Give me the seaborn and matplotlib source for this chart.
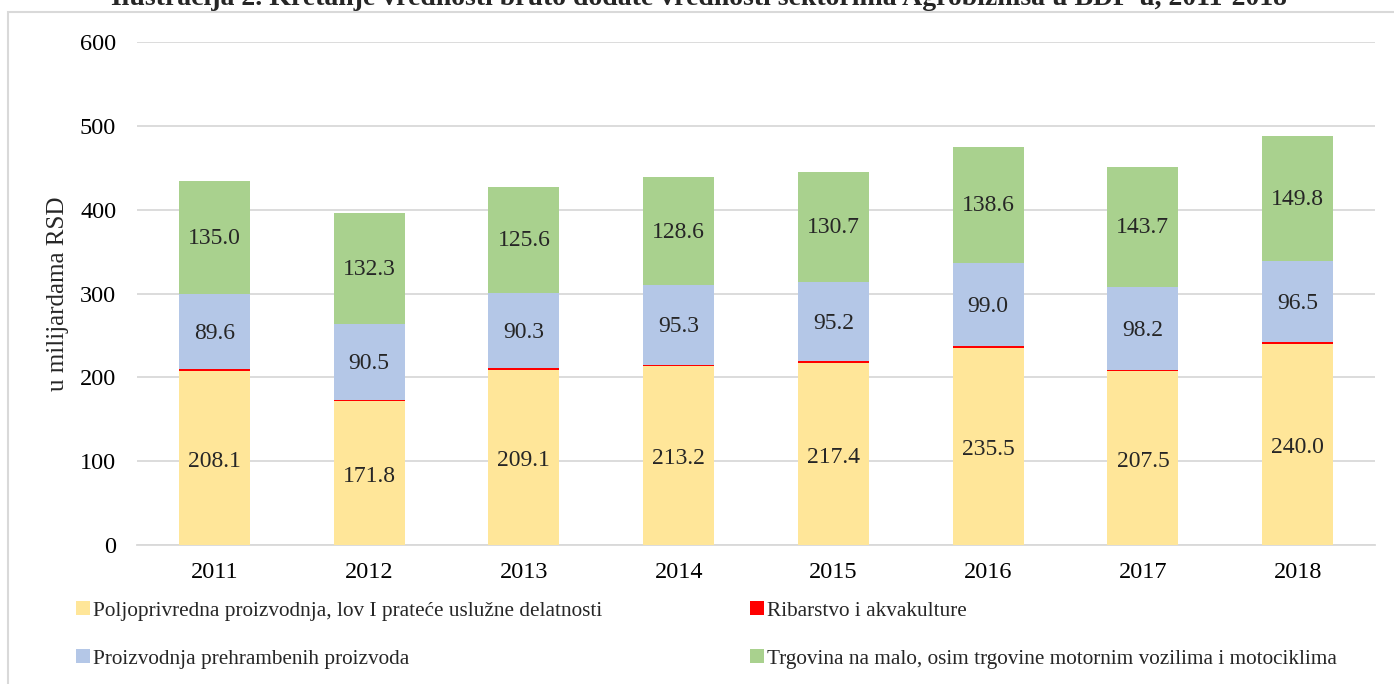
import numpy as np
import pandas as pd
import matplotlib
matplotlib.use("Agg")
import matplotlib.pyplot as plt
from matplotlib.patches import Rectangle, Patch
import seaborn as sns

years = ["2011", "2012", "2013", "2014", "2015", "2016", "2017", "2018"]
poljoprivreda = [208.1, 171.8, 209.1, 213.2, 217.4, 235.5, 207.5, 240.0]
ribarstvo = [1.4, 1.6, 1.6, 1.5, 1.6, 1.8, 1.7, 1.8]
prehrambeni = [89.6, 90.5, 90.3, 95.3, 95.2, 99.0, 98.2, 96.5]
trgovina = [135.0, 132.3, 125.6, 128.6, 130.7, 138.6, 143.7, 149.8]

series_names = [
    "Poljoprivredna proizvodnja, lov I prateće uslužne delatnosti",
    "Ribarstvo i akvakulture",
    "Proizvodnja prehrambenih proizvoda",
    "Trgovina na malo, osim trgovine motornim vozilima i motociklima",
]
colors = ["#FFE699", "#FF0000", "#B4C7E7", "#A9D18E"]

sns.set_theme(style="white")
plt.rcParams["font.family"] = ["Liberation Serif", "DejaVu Serif"]

fig = plt.figure(figsize=(13.94, 6.84), dpi=100)
ax = fig.add_axes([137 / 1394, 1 - 545 / 684, (1375 - 137) / 1394, (545 - 42) / 684])

p = np.array(poljoprivreda)
r = np.array(ribarstvo)
b = np.array(prehrambeni)
t = np.array(trgovina)
c1 = p
c2 = p + r
c3 = c2 + b
c4 = c3 + t

layers = [(c4, colors[3]), (c3, colors[2]), (c2, colors[1]), (c1, colors[0])]
for cum, col in layers:
    df = pd.DataFrame({"year": years, "value": cum})
    sns.barplot(data=df, x="year", y="value", color=col, width=0.46,
                saturation=1, ax=ax, linewidth=0, zorder=3)

ax.set_ylim(0, 600)
ax.set_yticks(range(0, 601, 100))
ax.grid(axis="y", color="#d9d9d9", linewidth=1.3, zorder=0)
ax.set_axisbelow(True)
for s in ["top", "right", "left"]:
    ax.spines[s].set_visible(False)
ax.spines["bottom"].set_color("#d9d9d9")
ax.spines["bottom"].set_linewidth(1.3)
ax.tick_params(axis="both", length=0, labelsize=17.5, colors="black")
ax.tick_params(axis="y", pad=15)
ax.tick_params(axis="x", pad=12)
ax.set_xlabel("")
ax.set_ylabel("u milijardama RSD", fontsize=18, labelpad=8)

for i in range(len(years)):
    ax.text(i, p[i] / 2 - 4, f"{p[i]:.1f}", ha="center", va="center", fontsize=17, zorder=5)
    ax.text(i, c2[i] + b[i] / 2 - 2, f"{b[i]:.1f}", ha="center", va="center", fontsize=17, zorder=5)
    ax.text(i, c3[i] + t[i] / 2 - 1, f"{t[i]:.1f}", ha="center", va="center", fontsize=17, zorder=5)

# chart border
fig.patches.append(Rectangle((7.5 / 1394, -0.05), 1.1, 1 - 12 / 684 + 0.05,
                             transform=fig.transFigure, fill=False,
                             edgecolor="#d9d9d9", linewidth=1.5))

# clipped title (cut off at the top edge as in the reference)
fig.text(699 / 1394, 1 - 5 / 684,
         "Ilustracija 2. Kretanje vrednosti bruto dodate vrednosti sektorima Agrobiznisa u BDP-u, 2011-2018",
         ha="center", va="baseline", fontsize=20, fontweight="bold")

h = [Patch(facecolor=c, edgecolor="none") for c in colors]
leg_kw = dict(frameon=False, fontsize=15.3, handlelength=0.65, handleheight=0.65,
              handletextpad=0.15, labelspacing=1.35, borderaxespad=0, borderpad=0)
fig.legend([h[0], h[2]], [series_names[0], series_names[2]], loc="upper left",
           bbox_to_anchor=(76 / 1394, 1 - 601 / 684), **leg_kw)
fig.legend([h[1], h[3]], [series_names[1], series_names[3]], loc="upper left",
           bbox_to_anchor=(750 / 1394, 1 - 601 / 684), **leg_kw)

fig.savefig("out.png", dpi=100)
